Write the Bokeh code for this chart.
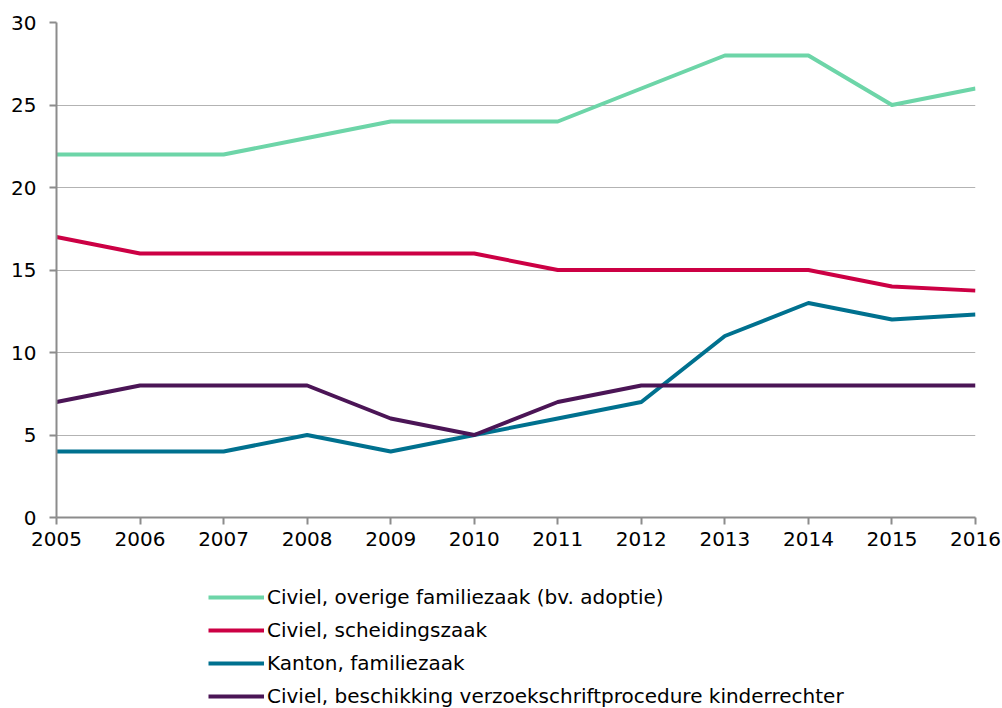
from bokeh.plotting import figure
from bokeh.layouts import column
from bokeh.models import Range1d, Legend, LegendItem, FixedTicker
from bokeh.embed import file_html
from bokeh.resources import INLINE

years = [2005, 2006, 2007, 2008, 2009, 2010, 2011, 2012, 2013, 2014, 2015, 2016]
overige = [22, 22, 22, 23, 24, 24, 24, 26, 28, 28, 25, 26]
scheiding = [17, 16, 16, 16, 16, 16, 15, 15, 15, 15, 14, 13.75]
kanton = [4, 4, 4, 5, 4, 5, 6, 7, 11, 13, 12, 12.3]
kinderrechter = [7, 8, 8, 8, 6, 5, 7, 8, 8, 8, 8, 8]

names = [
    "Civiel, overige familiezaak (bv. adoptie)",
    "Civiel, scheidingszaak",
    "Kanton, familiezaak",
    "Civiel, beschikking verzoekschriftprocedure kinderrechter",
]
colors = ["#6dd5a8", "#cc0044", "#00718f", "#4b1556"]
series = [overige, scheiding, kanton, kinderrechter]

FONT = "DejaVu Sans"

p = figure(frame_width=919, frame_height=495, output_backend="svg",
           toolbar_location=None, min_border_left=56, min_border_right=26,
           min_border_top=22, min_border_bottom=44,
           x_range=Range1d(2005, 2016), y_range=Range1d(0, 30))
p.outline_line_color = None
p.xgrid.grid_line_color = None
p.ygrid.grid_line_color = "#b3b3b3"
p.ygrid.grid_line_width = 1

for ax in (p.xaxis[0], p.yaxis[0]):
    ax.axis_line_color = "#8c8c8c"
    ax.axis_line_width = 2
    ax.major_tick_line_color = "#8c8c8c"
    ax.major_tick_line_width = 2
    ax.major_tick_out = 7
    ax.major_tick_in = 0
    ax.minor_tick_line_color = None
    ax.major_label_text_font = FONT
    ax.major_label_text_font_size = "20px"
    ax.major_label_text_color = "#000000"

p.xaxis.ticker = FixedTicker(ticks=years)
p.yaxis.ticker = FixedTicker(ticks=[0, 5, 10, 15, 20, 25, 30])
p.xaxis.major_label_standoff = 7
p.yaxis.major_label_standoff = 13

for col, vals in zip(colors, series):
    p.line(years, vals, line_color=col, line_width=4, line_join="round")

# legend panel (separate figure below the chart)
p2 = figure(width=1001, height=147, output_backend="svg", toolbar_location=None,
            min_border=0, x_range=Range1d(0, 1), y_range=Range1d(0, 1))
p2.outline_line_color = None
p2.axis.visible = False
p2.grid.grid_line_color = None

items = []
for name, col, vals in zip(names, colors, series):
    r = p2.line(years, vals, line_color=col, line_width=4)
    items.append(LegendItem(label=name, renderers=[r]))

legend = Legend(items=items, location=(152, 0), orientation="vertical",
                label_text_font=FONT, label_text_font_size="20px",
                label_text_color="#000000",
                glyph_width=56, glyph_height=20, label_height=20,
                label_standoff=3, spacing=9, padding=0, margin=0,
                border_line_color=None, background_fill_alpha=0)
p2.add_layout(legend)

layout = column(p, p2, spacing=0)
open("out.html", "w").write(file_html(layout, INLINE))
